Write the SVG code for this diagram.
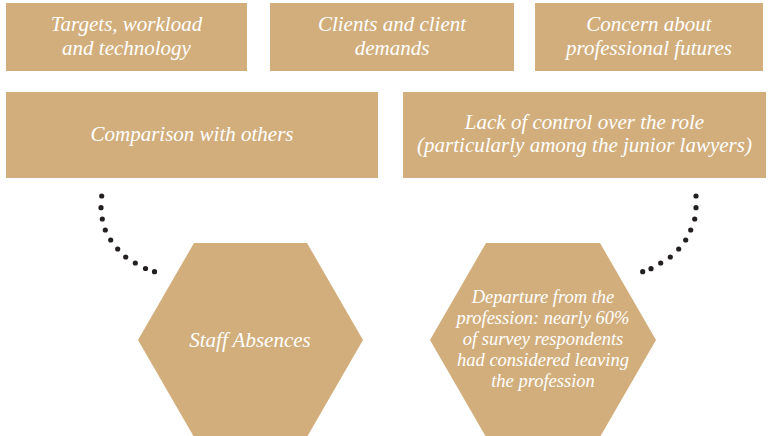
<svg xmlns="http://www.w3.org/2000/svg" width="768" height="436" viewBox="0 0 768 436">
<style>
.box{fill:#D2AE7C}
.t{fill:#FFFFFF;font-family:'Liberation Serif','DejaVu Serif',serif;font-style:italic;font-size:21px;text-anchor:middle}
.s{font-size:18.5px}
.dot{fill:#231F20}
</style>
<rect width="768" height="436" fill="#FFFFFF"/>
<g id="targets">
<rect class="box" x="6" y="3" width="241" height="68"/>
<text class="t" x="126.5" y="31">Targets, workload</text>
<text class="t" x="126.5" y="55">and technology</text>
</g>
<g id="clients">
<rect class="box" x="270" y="3" width="244" height="68"/>
<text class="t" x="392" y="31">Clients and client</text>
<text class="t" x="392" y="55">demands</text>
</g>
<g id="concern">
<rect class="box" x="535" y="3" width="228" height="68"/>
<text class="t" x="649" y="31">Concern about</text>
<text class="t" x="649" y="55">professional futures</text>
</g>
<g id="comparison">
<rect class="box" x="6" y="92" width="372" height="86"/>
<text class="t" x="192" y="141">Comparison with others</text>
</g>
<g id="control">
<rect class="box" x="403" y="92" width="363" height="86"/>
<text class="t" x="584.5" y="129">Lack of control over the role</text>
<text class="t" x="584.5" y="152">(particularly among the junior lawyers)</text>
</g>
<g id="absences">
<polygon class="box" points="194,243 307,243 363,340 307,437 194,437 138,340"/>
<text class="t" x="250" y="347">Staff Absences</text>
</g>
<g id="departure">
<polygon class="box" points="486,243 600,243 656,340 600,437 486,437 430,340"/>
<text class="t s" x="543" y="303">Departure from the</text>
<text class="t s" x="543" y="324">profession: nearly 60%</text>
<text class="t s" x="543" y="345">of survey respondents</text>
<text class="t s" x="543" y="366">had considered leaving</text>
<text class="t s" x="543" y="387">the profession</text>
</g>
<g id="connectors">
<g id="dots-left">
<circle class="dot" cx="101.7" cy="196" r="2.6"/>
<circle class="dot" cx="101" cy="207.7" r="2.6"/>
<circle class="dot" cx="102.3" cy="219" r="2.6"/>
<circle class="dot" cx="105.3" cy="230" r="2.6"/>
<circle class="dot" cx="110.7" cy="240" r="2.6"/>
<circle class="dot" cx="117.7" cy="249" r="2.6"/>
<circle class="dot" cx="125.7" cy="257" r="2.6"/>
<circle class="dot" cx="135.3" cy="263" r="2.6"/>
<circle class="dot" cx="145.5" cy="268.5" r="2.6"/>
<circle class="dot" cx="154.5" cy="271.7" r="2.6"/>
</g>
<g id="dots-right">
<circle class="dot" cx="696" cy="196" r="2.6"/>
<circle class="dot" cx="696" cy="207.7" r="2.6"/>
<circle class="dot" cx="694.7" cy="219" r="2.6"/>
<circle class="dot" cx="690.7" cy="230" r="2.6"/>
<circle class="dot" cx="685.7" cy="240" r="2.6"/>
<circle class="dot" cx="678.7" cy="249" r="2.6"/>
<circle class="dot" cx="670.3" cy="257" r="2.6"/>
<circle class="dot" cx="660.7" cy="263" r="2.6"/>
<circle class="dot" cx="651" cy="268.7" r="2.6"/>
<circle class="dot" cx="642.7" cy="271.7" r="2.6"/>
</g>
</g>
</svg>
